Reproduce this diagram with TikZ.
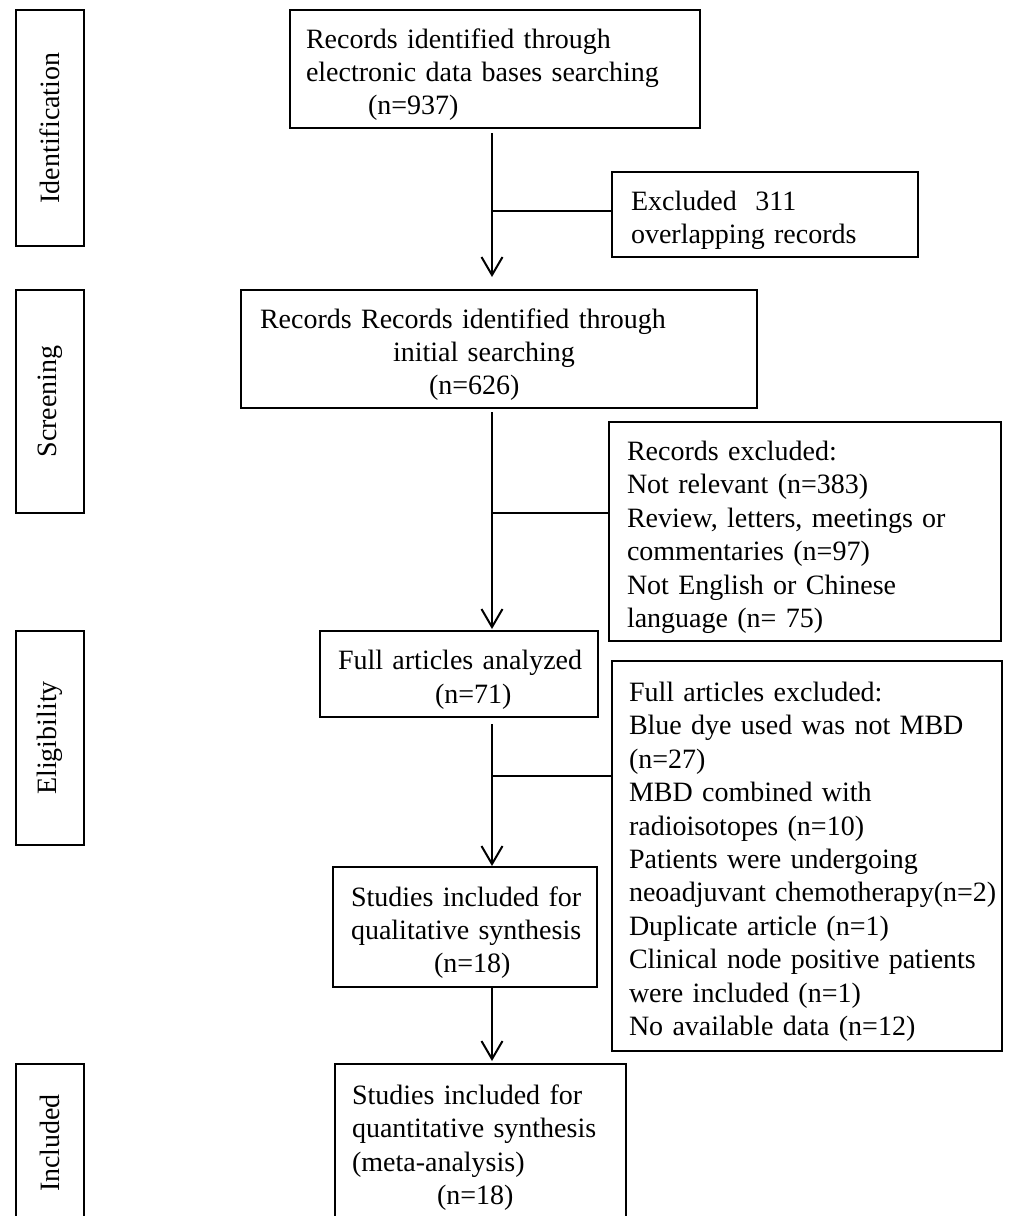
\documentclass[tikz,border=0pt]{standalone}
\usepackage{fontspec}
\setmainfont{Liberation Serif}
\usetikzlibrary{arrows.meta}
\newcommand{\indx}[1]{\hspace*{#1pt}}
\begin{document}
\begin{tikzpicture}[x=1pt,y=-1pt,
  box/.style={draw, line width=2pt, anchor=north west, inner xsep=0pt, inner ysep=0pt,
    outer sep=0pt, align=left, font=\fontsize{28}{33.4}\selectfont,
    execute at begin node={\rule{0pt}{31pt}}},
  side/.style={draw, line width=2pt, rotate=90, inner sep=0pt, outer sep=0pt,
    minimum height=68pt, font=\fontsize{28}{33.4}\selectfont},
  arr/.style={line width=2pt, -{Straight Barb[length=18pt,width=21pt,line width=2pt]}},
  lnk/.style={line width=2pt}]
\useasboundingbox (0,0) rectangle (1009,1216);

% stage labels
\node[side, minimum width=236pt] (s1) at (50,128) {Identification};
\node[side, minimum width=223pt] (s2) at (50,401.5) {Screening};
\node[side, minimum width=214pt] (s3) at (50,738) {Eligibility};
\node[side, minimum width=158pt] (s4) at (50,1143) {Included};

% main column
\node[box, text width=410pt, minimum height=118pt] (b1) at (290,10)
  {\indx{16}Records identified through\\\indx{16}electronic data bases searching\\\indx{78}(n=937)};
\node[box, text width=516pt, minimum height=118pt] (b2) at (241,290)
  {\indx{19}Records Records identified through\\\indx{152}initial searching\\\indx{188}(n=626)};
\node[box, text width=278pt, minimum height=86pt] (b3) at (320,631)
  {\indx{18}Full articles analyzed\\\indx{115}(n=71)};
\node[box, text width=264pt, minimum height=120pt] (b4) at (333,867)
  {\indx{18}Studies included for\\\indx{18}qualitative synthesis\\\indx{101}(n=18)};
\node[box, text width=291pt, minimum height=156pt] (b5) at (335,1064)
  {\indx{17}Studies included for\\\indx{17}quantitative synthesis\\\indx{17}(meta-analysis)\\\indx{102}(n=18)};

% exclusion boxes
\node[box, text width=306pt, minimum height=85pt] (e1) at (612,172)
  {\indx{19}Excluded\ \ 311\\\indx{19}overlapping records};
\node[box, text width=392pt, minimum height=219pt] (e2) at (609,422)
  {\indx{18}Records excluded:\\\indx{18}Not relevant (n=383)\\\indx{18}Review, letters, meetings or\\\indx{18}commentaries (n=97)\\\indx{18}Not English or Chinese\\\indx{18}language (n= 75)};
\node[box, text width=390pt, minimum height=390pt] (e3) at (612,661)
  {\indx{17}Full articles excluded:\\\indx{17}Blue dye used was not MBD\\\indx{17}(n=27)\\\indx{17}MBD combined with\\\indx{17}radioisotopes (n=10)\\\indx{17}Patients were undergoing\\\indx{17}neoadjuvant chemotherapy(n=2)\\\indx{17}Duplicate article (n=1)\\\indx{17}Clinical node positive patients\\\indx{17}were included (n=1)\\\indx{17}No available data (n=12)};

% connectors
\coordinate (ax) at (492,0);
\draw[arr, shorten <=5pt, shorten >=13pt] (b1.south -| ax) -- (b2.north -| ax);
\draw[arr, shorten <=4pt, shorten >=2pt] (b2.south -| ax) -- (b3.north -| ax);
\draw[arr, shorten <=7pt, shorten >=1pt] (b3.south -| ax) -- (b4.north -| ax);
\draw[arr, shorten >=3pt] (b4.south -| ax) -- (b5.north -| ax);

\coordinate (j1) at (492,211);
\coordinate (j2) at (492,513);
\coordinate (j3) at (492,776);
\draw[lnk] (j1) -- (j1 -| e1.west);
\draw[lnk] (j2) -- (j2 -| e2.west);
\draw[lnk] (j3) -- (j3 -| e3.west);
\end{tikzpicture}
\end{document}
